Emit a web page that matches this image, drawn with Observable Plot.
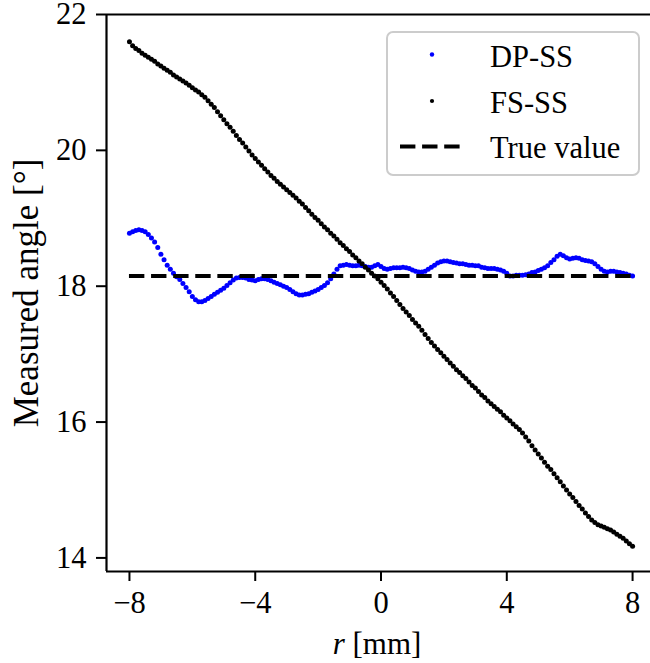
<!DOCTYPE html>
<html>
<head>
<meta charset="utf-8">
<script src="https://cdn.jsdelivr.net/npm/d3@7"></script>
<script src="https://cdn.jsdelivr.net/npm/@observablehq/plot@0.6"></script>
<style>
  html, body { margin: 0; padding: 0; background: white; overflow: hidden; }
  #chart svg { display: block; }
</style>
</head>
<body>
<div id="chart"></div>
<script>
// ---- data ----
const rStart = -8;      // first r sample [mm]
const rStep = 0.1;      // sample spacing [mm]

const dpssValues = [
  18.78, 18.80, 18.82, 18.83, 18.82, 18.80, 18.76, 18.71, 18.65, 18.57,
  18.47, 18.39, 18.31, 18.25, 18.19, 18.14, 18.10, 18.04, 17.98, 17.92,
  17.85, 17.80, 17.77, 17.77, 17.79, 17.82, 17.85, 17.88, 17.91, 17.94,
  17.97, 18.01, 18.05, 18.09, 18.12, 18.13, 18.13, 18.12, 18.10, 18.09,
  18.08, 18.10, 18.11, 18.11, 18.10, 18.08, 18.06, 18.04, 18.02, 18.00,
  17.98, 17.95, 17.92, 17.89, 17.87, 17.87, 17.88, 17.89, 17.91, 17.93,
  17.95, 17.98, 18.01, 18.05, 18.11, 18.18, 18.25, 18.30, 18.31, 18.32,
  18.31, 18.30, 18.30, 18.31, 18.30, 18.29, 18.28, 18.28, 18.30, 18.32,
  18.29, 18.26, 18.25, 18.26, 18.27, 18.27, 18.27, 18.28, 18.27, 18.26,
  18.24, 18.22, 18.21, 18.21, 18.22, 18.25, 18.28, 18.31, 18.34, 18.36,
  18.37, 18.37, 18.36, 18.35, 18.34, 18.33, 18.33, 18.32, 18.31, 18.31,
  18.30, 18.30, 18.28, 18.27, 18.26, 18.26, 18.26, 18.25, 18.24, 18.22,
  18.19, 18.15, 18.15, 18.16, 18.16, 18.16, 18.17, 18.18, 18.20, 18.21,
  18.23, 18.25, 18.27, 18.30, 18.35, 18.39, 18.44, 18.47, 18.45, 18.42,
  18.40, 18.41, 18.42, 18.41, 18.39, 18.38, 18.37, 18.36, 18.33, 18.29,
  18.25, 18.22, 18.21, 18.22, 18.22, 18.21, 18.20, 18.19, 18.18, 18.16,
  18.15
];

const fsssValues = [
  21.60, 21.54, 21.50, 21.47, 21.43, 21.40, 21.37, 21.34, 21.31, 21.27,
  21.24, 21.21, 21.18, 21.15, 21.11, 21.08, 21.05, 21.02, 20.99, 20.96,
  20.92, 20.89, 20.86, 20.82, 20.78, 20.73, 20.68, 20.63, 20.57, 20.51,
  20.45, 20.39, 20.34, 20.28, 20.22, 20.16, 20.11, 20.05, 19.99, 19.93,
  19.88, 19.83, 19.78, 19.73, 19.68, 19.63, 19.59, 19.54, 19.50, 19.46,
  19.42, 19.38, 19.34, 19.30, 19.25, 19.21, 19.16, 19.11, 19.06, 19.01,
  18.97, 18.92, 18.87, 18.83, 18.78, 18.74, 18.69, 18.64, 18.60, 18.55,
  18.51, 18.46, 18.42, 18.37, 18.33, 18.28, 18.24, 18.19, 18.15, 18.11,
  18.06, 18.01, 17.96, 17.90, 17.85, 17.79, 17.73, 17.67, 17.62, 17.57,
  17.51, 17.46, 17.41, 17.35, 17.29, 17.23, 17.17, 17.12, 17.07, 17.02,
  16.97, 16.92, 16.87, 16.82, 16.77, 16.73, 16.68, 16.64, 16.59, 16.54,
  16.50, 16.45, 16.40, 16.36, 16.31, 16.27, 16.23, 16.19, 16.15, 16.10,
  16.06, 16.02, 15.97, 15.93, 15.89, 15.84, 15.78, 15.72, 15.65, 15.59,
  15.53, 15.47, 15.41, 15.35, 15.30, 15.24, 15.18, 15.12, 15.06, 15.00,
  14.94, 14.89, 14.83, 14.77, 14.72, 14.66, 14.61, 14.56, 14.52, 14.49,
  14.47, 14.45, 14.43, 14.41, 14.38, 14.35, 14.32, 14.29, 14.25, 14.21,
  14.17
];

const trueValue = 18.15;
const trueSpan = [-8, 8];
const xTicks = [-8, -4, 0, 4, 8];
const yTicks = [14, 16, 18, 20, 22];
const xDomain = [-8.73, 8.57];
const yDomain = [13.80, 22.0];
const seriesNames = ["DP-SS", "FS-SS", "True value"];
const xLabelVar = "r";
const xLabelUnit = " [mm]";
const yLabel = "Measured angle [°]";

// ---- pick an installed serif font (Times-like first) ----
function pickFont(cands) {
  const ctx = document.createElement("canvas").getContext("2d");
  const s = "Measured angle DP-SS True value 0123456789";
  const gens = ["monospace", "sans-serif"];
  const base = {};
  for (const g of gens) { ctx.font = `40px ${g}`; base[g] = ctx.measureText(s).width; }
  for (const f of cands) {
    const ok = gens.every(g => { ctx.font = `40px "${f}", ${g}`; return Math.abs(ctx.measureText(s).width - base[g]) > 0.5; });
    if (ok) return f;
  }
  return null;
}
const picked = pickFont(["Liberation Serif", "Tinos", "Times New Roman", "Nimbus Roman", "Nimbus Roman No9 L", "Times", "DejaVu Serif", "Noto Serif"]);
const FONT = picked ? `"${picked}", serif` : "serif";
const DASH = "15.4,6.7";

// ---- tables ----
const toRows = vals => vals.map((v, i) => ({ r: Math.round((rStart + i * rStep) * 10) / 10, v }));
const dpRows = toRows(dpssValues);
const fsRows = toRows(fsssValues);
const trueRows = [{ y: trueValue, x1: trueSpan[0], x2: trueSpan[1] }];

const chart = Plot.plot({
  width: 650,
  height: 663,
  marginLeft: 106,
  marginRight: 0,
  marginTop: 14,
  marginBottom: 92,
  x: { domain: xDomain },
  y: { domain: yDomain },
  style: { fontFamily: FONT, fontSize: "30.5px", color: "black", background: "white", overflow: "visible" },
  marks: [
    Plot.dot(dpRows, { x: "r", y: "v", r: 2.5, fill: "#0000ff", stroke: "none" }),
    Plot.dot(fsRows, { x: "r", y: "v", r: 2.5, fill: "black", stroke: "none" }),
    Plot.ruleY(trueRows, { y: "y", x1: "x1", x2: "x2", stroke: "black", strokeWidth: 4, strokeDasharray: DASH }),
    Plot.axisX({ ticks: xTicks, tickSize: 10, tickPadding: 10, strokeWidth: 2, label: null, fontSize: 30.5, fontFamily: FONT }),
    Plot.axisY({ ticks: yTicks, tickSize: 10, tickPadding: 10, strokeWidth: 2, label: null, fontSize: 30.5, fontFamily: FONT }),
    Plot.ruleX([xDomain[0]], { stroke: "black", strokeWidth: 2.2 }),
    Plot.ruleY(yDomain, { stroke: "black", strokeWidth: 2.2 }),
    Plot.text([yLabel], { frameAnchor: "left", dx: -80, rotate: -90, textAnchor: "middle", lineAnchor: "middle", fontSize: 35, fontFamily: FONT, fill: "black" })
  ]
});

document.getElementById("chart").appendChild(chart);

// ---- x label with italic variable ----
const svg = d3.select(chart);
const xl = svg.append("text")
  .attr("x", 377).attr("y", 654)
  .attr("text-anchor", "middle")
  .style("font-family", FONT).attr("font-size", 31).attr("fill", "black");
xl.append("tspan").attr("font-style", "italic").text(xLabelVar);
xl.append("tspan").text(xLabelUnit);

// ---- legend ----
const lg = svg.append("g").style("font-family", FONT).attr("font-size", 30.5).attr("text-anchor", "start");
lg.append("rect").attr("x", 387).attr("y", 32).attr("width", 252).attr("height", 143)
  .attr("rx", 6).attr("fill", "white").attr("fill-opacity", 0.8)
  .attr("stroke", "#cccccc").attr("stroke-width", 2);
lg.append("circle").attr("cx", 432).attr("cy", 54.5).attr("r", 2.2).attr("fill", "#0000ff");
lg.append("circle").attr("cx", 432).attr("cy", 101).attr("r", 2.1).attr("fill", "black");
lg.append("line").attr("x1", 400).attr("x2", 462).attr("y1", 146.5).attr("y2", 146.5)
  .attr("stroke", "black").attr("stroke-width", 4).attr("stroke-dasharray", DASH);
const ly = [66.7, 112.7, 158.3];
seriesNames.forEach((n, i) => {
  lg.append("text").attr("x", 490).attr("y", ly[i]).attr("text-anchor", "start").attr("fill", "black").text(n);
});
</script>
</body>
</html>
